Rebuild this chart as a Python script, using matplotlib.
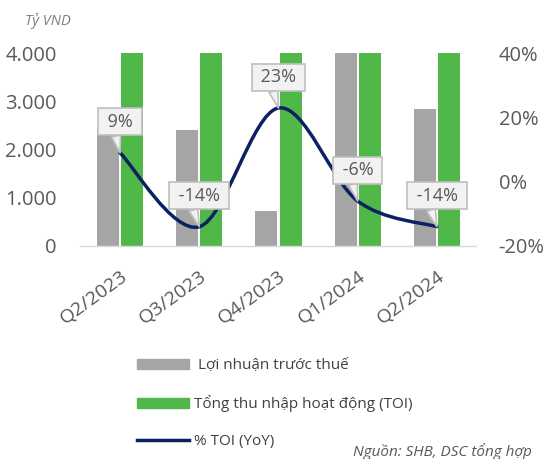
import numpy as np
import matplotlib.pyplot as plt
from matplotlib.path import Path
from matplotlib.patches import PathPatch, Patch
from matplotlib.lines import Line2D

# data (TOI bars and Q1/2024 profit run past the 4.000 cap)
quarters = ['Q2/2023', 'Q3/2023', 'Q4/2023', 'Q1/2024', 'Q2/2024']
profit = [2450, 2400, 730, 4300, 2850]
toi = [4600, 4400, 4500, 4700, 4500]
toi_yoy = [9, -14, 23, -6, -14]

GREY = '#A5A5A5'
GREEN = '#50B848'
NAVY = '#0B2161'
TXT = '#595959'

plt.rcParams['font.family'] = ['Open Sans', 'DejaVu Sans']

fig = plt.figure(figsize=(5.49, 4.59), dpi=100)
ax = fig.add_axes([0.1466, 0.4641, 0.7213, 0.4194])

x = np.arange(len(quarters))
w = 0.278
ax.bar(x - 0.152, profit, w, color=GREY)
ax.bar(x + 0.152, toi, w, color=GREEN)
ax.set_xlim(-0.5, 4.5)
ax.set_ylim(0, 4000)
ax.set_yticks([0, 1000, 2000, 3000, 4000])
ax.yaxis.set_major_formatter(lambda v, p: f'{v:,.0f}'.replace(',', '.'))
for s in ['top', 'right', 'left']:
    ax.spines[s].set_visible(False)
ax.spines['bottom'].set_color('#D9D9D9')
ax.spines['bottom'].set_linewidth(1)
ax.tick_params(axis='y', length=0, pad=17, labelsize=14.5, labelcolor=TXT)
ax.set_xticks(x)
ax.set_xticklabels(quarters, rotation=36, ha='right', va='top', rotation_mode='anchor')
ax.tick_params(axis='x', length=0, pad=15, labelsize=14, labelcolor=TXT)

# % TOI on the right axis
ax2 = ax.twinx()
ax2.set_ylim(-20, 40)
ax2.set_yticks([-20, 0, 20, 40])
ax2.yaxis.set_major_formatter(lambda v, p: f'{v:.0f}%')
for s in ax2.spines.values():
    s.set_visible(False)
ax2.tick_params(axis='y', length=0, pad=16, labelsize=14.5, labelcolor=TXT)

# smoothed line like excel (bezier through the points)
pts = np.column_stack([x, toi_yoy]).astype(float)
verts = [pts[0]]
codes = [Path.MOVETO]
for i in range(len(pts) - 1):
    p0 = pts[max(i - 1, 0)]
    p1 = pts[i]
    p2 = pts[i + 1]
    p3 = pts[min(i + 2, len(pts) - 1)]
    verts += [p1 + (p2 - p0) / 6, p2 - (p3 - p1) / 6, p2]
    codes += [Path.CURVE4] * 3
ax2.add_patch(PathPatch(Path(verts, codes), fill=False, ec=NAVY, lw=2.5, capstyle='round'))

# callout labels
for xi, v in zip(x, toi_yoy):
    ax2.annotate(f' {v}% ', (xi, v), xytext=(0, 31), textcoords='offset pixels',
                 ha='center', va='center', fontsize=13, color=TXT,
                 bbox=dict(boxstyle='square,pad=0.25', fc='#F2F2F2', ec='#BFBFBF', lw=1.2),
                 arrowprops=dict(arrowstyle='wedge,tail_width=0.5', fc='#F2F2F2', ec='#BFBFBF',
                                 lw=1.2, relpos=(0.35, 0), shrinkA=0, shrinkB=0))

handles = [Patch(color=GREY), Patch(color=GREEN), Line2D([], [], color=NAVY, lw=2.5)]
labels = [' Lợi nhuận trước thuế', 'Tổng thu nhập hoạt động (TOI)', '% TOI (YoY)']
fig.legend(handles, labels, loc='upper left', bbox_to_anchor=(136.5 / 549, 1 - 358 / 459),
           frameon=False, fontsize=11, handlelength=3.44, handleheight=0.62,
           handletextpad=0.33, labelspacing=1.45, borderpad=0, borderaxespad=0,
           labelcolor='#404040')

fig.text(48 / 549, 1 - 21 / 459, 'Tỷ VND', ha='center', va='center', style='italic',
         fontsize=10.5, color='#7F7F7F')
fig.text(532 / 549, 1 - 452 / 459, 'Nguồn: SHB, DSC tổng hợp', ha='right', va='center',
         style='italic', fontsize=11, color=TXT)

fig.savefig('out.png', dpi=100)
